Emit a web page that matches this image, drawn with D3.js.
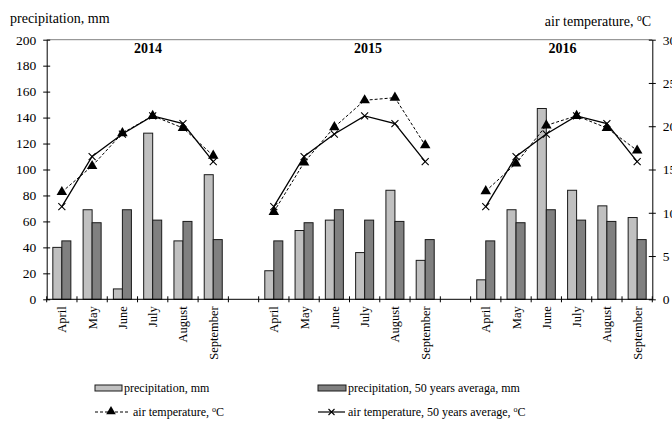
<!DOCTYPE html>
<html><head><meta charset="utf-8">
<script src="https://cdn.jsdelivr.net/npm/d3@7"></script>
<style>
html,body{margin:0;padding:0;background:#fff;}
svg text{font-family:"Liberation Serif","Times New Roman",serif;fill:#000;}
</style></head>
<body><svg id="c" width="672" height="424"></svg>
<script>
const months = ["April","May","June","July","August","September"];
const years = ["2014","2015","2016"];
const precip = [
  [40, 69, 8, 128, 45, 96],
  [22, 53, 61, 36, 84, 30],
  [15, 69, 147, 84, 72, 63]
];
const precipAvg = [45, 59, 69, 61, 60, 46];
const temp = [
  [12.4, 15.4, 19.2, 21.2, 19.8, 16.6],
  [10.1, 15.8, 19.9, 23.0, 23.3, 17.8],
  [12.5, 15.7, 20.1, 21.2, 19.8, 17.2]
];
const tempAvg = [10.7, 16.5, 19.1, 21.2, 20.3, 15.9];
const leftTicks = [0,20,40,60,80,100,120,140,160,180,200];
const rightTicks = [0,5,10,15,20,25,30];

const svg = d3.select("#c");
const L = 46.7, R = 652.3, T = 39.7, B = 299.3;
const nSlots = years.length * (months.length + 1) - 1;
const slotOf = (yi, mi) => yi * (months.length + 1) + mi;

const x = d3.scaleBand().domain(d3.range(nSlots)).range([L, R]).padding(0);
const sub = d3.scaleBand().domain(["p","a"]).range([0, x.bandwidth()]).paddingInner(0).paddingOuter(0.68);
const y = d3.scaleLinear().domain([0, 200]).range([B, T]);
const yT = d3.scaleLinear().domain([0, 30]).range([B, T]);

// top border
svg.append("line").attr("x1", L).attr("x2", R).attr("y1", T).attr("y2", T)
  .attr("stroke", "#808080").attr("stroke-width", 1);

// bars
const barData = [];
years.forEach((yr, yi) => months.forEach((m, mi) => {
  barData.push({slot: slotOf(yi, mi), key: "p", v: precip[yi][mi]});
  barData.push({slot: slotOf(yi, mi), key: "a", v: precipAvg[mi]});
}));
svg.append("g").selectAll("rect").data(barData).join("rect")
  .attr("x", d => x(d.slot) + sub(d.key))
  .attr("width", sub.bandwidth())
  .attr("y", d => y(d.v))
  .attr("height", d => y(0) - y(d.v))
  .attr("fill", d => d.key === "p" ? "#c0c0c0" : "#808080")
  .attr("stroke", "#1a1a1a").attr("stroke-width", 1);

// lines
const cx = s => x(s) + x.bandwidth() / 2;
years.forEach((yr, yi) => {
  const ptsA = months.map((m, mi) => [cx(slotOf(yi, mi)), yT(tempAvg[mi])]);
  const ptsT = months.map((m, mi) => [cx(slotOf(yi, mi)), yT(temp[yi][mi])]);
  svg.append("path").attr("d", d3.line()(ptsA)).attr("fill", "none")
    .attr("stroke", "#000").attr("stroke-width", 1.3);
  svg.append("path").attr("d", d3.line()(ptsT)).attr("fill", "none")
    .attr("stroke", "#000").attr("stroke-width", 1).attr("stroke-dasharray", "3,2");
  ptsA.forEach(p => {
    svg.append("path").attr("d", `M${p[0]-3.5},${p[1]-3.5}L${p[0]+3.5},${p[1]+3.5}M${p[0]-3.5},${p[1]+3.5}L${p[0]+3.5},${p[1]-3.5}`)
      .attr("stroke", "#000").attr("stroke-width", 1.1);
  });
  ptsT.forEach(p => {
    svg.append("path").attr("transform", `translate(${p[0]},${p[1]})`)
      .attr("d", d3.symbol(d3.symbolTriangle, 48)()).attr("fill", "#000");
  });
});

// left axis
const gl = svg.append("g").attr("transform", `translate(${L},0)`)
  .call(d3.axisLeft(y).tickValues(leftTicks).tickSizeInner(3.5).tickSizeOuter(0).tickPadding(7));
gl.selectAll(".tick line").attr("x2", 3.5).attr("x1", -3.5);
gl.select(".domain").attr("stroke", "#000");
gl.selectAll("text").style("font-size", "13.5px").style("font-family", '"Liberation Serif",serif');

// right axis
const gr = svg.append("g").attr("transform", `translate(${R},0)`)
  .call(d3.axisRight(yT).tickValues(rightTicks).tickSizeInner(3.5).tickSizeOuter(0).tickPadding(7));
gr.selectAll(".tick line").attr("x1", -3.5).attr("x2", 3.5);
gr.selectAll("text").style("font-size", "13.5px").style("font-family", '"Liberation Serif",serif');

// bottom axis with ticks at slot boundaries
svg.append("line").attr("x1", L).attr("x2", R).attr("y1", B).attr("y2", B).attr("stroke", "#000");
d3.range(nSlots + 1).forEach(i => {
  const xx = i < nSlots ? x(i) : R;
  svg.append("line").attr("x1", xx).attr("x2", xx).attr("y1", B - 3).attr("y2", B + 3).attr("stroke", "#000");
});
years.forEach((yr, yi) => months.forEach((m, mi) => {
  const xx = cx(slotOf(yi, mi)) + 4.5;
  svg.append("text").attr("transform", `translate(${xx},${B + 7}) rotate(-90)`)
    .attr("text-anchor", "end").style("font-size", "12.5px").text(m);
}));

// year labels
const yearX = [148, 368, 562.5];
years.forEach((yr, yi) => {
  svg.append("text").attr("x", yearX[yi]).attr("y", 53).attr("text-anchor", "middle")
    .style("font-size", "14px").style("font-weight", "bold").text(yr);
});

// axis titles
svg.append("text").attr("x", 10).attr("y", 23).style("font-size", "14px").text("precipitation, mm");
const rt = svg.append("text").attr("x", 651).attr("y", 26).attr("text-anchor", "end").style("font-size", "14px");
rt.append("tspan").text("air temperature, ");
rt.append("tspan").attr("dy", -5).style("font-size", "9.5px").text("o");
rt.append("tspan").attr("dy", 5).text("C");

// legend
const lg = svg.append("g").style("font-size", "12px");
lg.append("rect").attr("x", 95).attr("y", 385).attr("width", 27).attr("height", 6).attr("fill", "#c0c0c0").attr("stroke", "#1a1a1a");
lg.append("text").attr("x", 124).attr("y", 392).text("precipitation, mm");
lg.append("rect").attr("x", 318).attr("y", 385).attr("width", 28).attr("height", 6).attr("fill", "#808080").attr("stroke", "#1a1a1a");
lg.append("text").attr("x", 348).attr("y", 392).text("precipitation, 50 years averaga, mm");

lg.append("line").attr("x1", 95).attr("x2", 130).attr("y1", 412).attr("y2", 412).attr("stroke", "#000").attr("stroke-dasharray", "3,2");
lg.append("path").attr("transform", "translate(111,411.5)").attr("d", d3.symbol(d3.symbolTriangle, 40)()).attr("fill", "#000");
const t1 = lg.append("text").attr("x", 133).attr("y", 416);
t1.append("tspan").text("air temperature, ");
t1.append("tspan").attr("dy", -4).style("font-size", "8px").text("o");
t1.append("tspan").attr("dy", 4).text("C");

lg.append("line").attr("x1", 318).attr("x2", 345).attr("y1", 412).attr("y2", 412).attr("stroke", "#000").attr("stroke-width", 1.2);
lg.append("path").attr("d", "M328.5,409L334.5,415M328.5,415L334.5,409").attr("stroke", "#000").attr("stroke-width", 1.1);
const t2 = lg.append("text").attr("x", 348).attr("y", 416);
t2.append("tspan").text("air temperature, 50 years average, ");
t2.append("tspan").attr("dy", -4).style("font-size", "8px").text("o");
t2.append("tspan").attr("dy", 4).text("C");
</script></body></html>
